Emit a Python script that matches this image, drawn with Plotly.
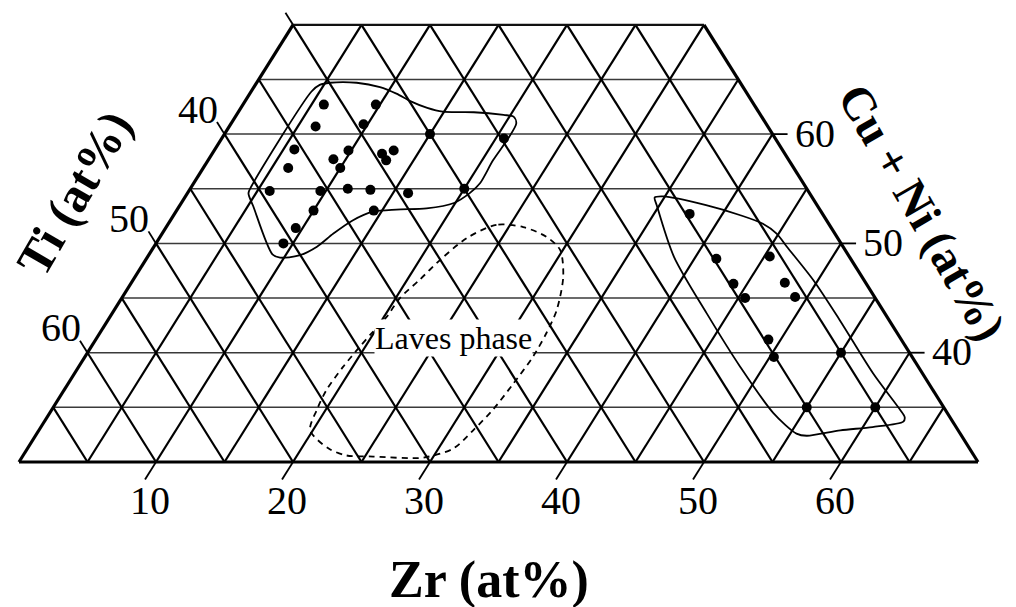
import plotly.graph_objects as go

# ---------------- data (compositions in at%; Ti = 100 - CuNi - Zr) ----------------
CUNI_MIN, CUNI_MAX, STEP = 30, 70, 5

ti_ticks = [30, 40, 50, 60]
ti_labels = ["", "40", "50", "60"]
zr_ticks = [10, 20, 30, 40, 50, 60]
zr_labels = ["10", "20", "30", "40", "50", "60"]
cuni_ticks = [40, 50, 60]
cuni_labels = ["40", "50", "60"]

left_pts_cuni = [62.7, 62.7, 60.7, 60.9, 60.0, 59.6, 58.6, 58.5, 57.7, 56.9, 58.2, 58.5,
                 57.6, 56.9, 54.8, 54.8, 55.0, 54.9, 54.6, 55.0, 53.0, 53.0, 51.4, 50.0]
left_pts_zr = [5.9, 9.7, 6.3, 9.7, 15.0, 20.6, 5.8, 9.8, 9.1, 10.0, 12.4, 13.1,
               13.0, 6.2, 5.9, 9.6, 11.5, 13.2, 16.1, 20.0, 10.0, 14.4, 9.5, 9.3]

right_pts_cuni = [52.7, 48.6, 48.8, 46.3, 46.4, 45.0, 45.1, 41.2, 39.6, 40.0, 35.0, 35.0]
right_pts_zr = [37.6, 41.6, 45.4, 44.0, 47.7, 45.5, 49.1, 49.1, 50.3, 55.0, 55.0, 60.0]

left_region_cuni = [64.5, 64.7, 64.7, 64.3, 63.7, 63.0, 62.4, 62.05, 62.0, 61.75, 61.6, 61.0,
                    59.5, 57.6, 55.5, 54.6, 53.7, 53.2, 53.1, 52.9, 52.1, 50.9, 49.7, 48.9,
                    48.7, 49.0, 53.4, 54.6, 55.25, 63.9, 64.5]
left_region_zr = [4.7, 5.35, 7.3, 9.2, 10.7, 12.1, 13.6, 14.9, 17.2, 19.5, 20.3, 20.8,
                  20.9, 20.8, 20.9, 20.6, 19.9, 18.15, 16.0, 14.4, 13.3, 12.5, 11.9, 11.0,
                  9.7, 9.0, 5.4, 4.45, 4.35, 4.4, 4.7]

right_region_cuni = [54.2, 54.3, 53.5, 52.6, 51.8, 50.9, 49.7, 46.65, 43.0, 38.1, 34.8, 34.1,
                     33.7, 33.2, 32.9, 32.4, 32.6, 34.5, 38.7, 43.6, 48.8, 53.5, 54.2]
right_region_zr = [34.3, 34.9, 38.4, 41.3, 43.4, 44.85, 46.2, 49.65, 53.4, 58.3, 61.9, 62.6,
                   62.7, 60.7, 58.5, 56.3, 55.45, 52.8, 48.3, 43.4, 38.4, 34.8, 34.3]

laves_cuni = [51.5, 51.7, 50.5, 48.5, 46.65, 45.0, 43.3, 41.8, 40.55, 38.7, 36.6, 34.8, 32.9,
              31.25, 30.6, 30.5, 30.4, 31.25, 32.9, 34.8, 37.2, 39.6, 41.8, 43.9, 46.95, 49.4,
              50.6, 51.5]
laves_zr = [26.05, 24.0, 22.45, 21.5, 20.9, 20.3, 20.2, 19.85, 19.6, 19.3, 19.15, 19.35, 19.8,
            21.95, 23.6, 25.6, 29.3, 31.1, 31.7, 32.2, 32.5, 32.7, 32.6, 32.3, 31.25, 29.8,
            28.2, 26.05]


# ---------------- projection (Ti bottom-left, Zr bottom-right, Cu+Ni top) ----------------
def px(cuni, zr):
    return zr + cuni / 2.0


def seg_trace(segs, width, color, dash=None):
    xs, ys = [], []
    for (c1, z1), (c2, z2) in segs:
        xs += [px(c1, z1), px(c2, z2), None]
        ys += [c1, c2, None]
    return go.Scatter(x=xs, y=ys, mode="lines", hoverinfo="skip", showlegend=False,
                      line=dict(color=color, width=width, dash=dash))


FONT = "Liberation Serif"

# horizontal grid (constant Cu+Ni)
h_segs = []
for c in range(CUNI_MIN + STEP, CUNI_MAX, STEP):
    h_segs.append(((c, 0), (c, 100 - c)))
# constant Zr lines (parallel to left edge)
z_segs = []
for z in range(STEP, 100 - CUNI_MIN, STEP):
    ctop = min(CUNI_MAX, 100 - z)
    z_segs.append(((CUNI_MIN, z), (ctop, z)))
# constant Ti lines (parallel to right edge)
t_segs = []
for t in range(STEP, 100 - CUNI_MIN, STEP):
    ctop = min(CUNI_MAX, 100 - t)
    t_segs.append(((CUNI_MIN, 100 - CUNI_MIN - t), (ctop, 100 - ctop - t)))

# borders
border_segs = [
    ((CUNI_MIN, 0), (CUNI_MAX, 0)),
    ((CUNI_MIN, 100 - CUNI_MIN), (CUNI_MAX, 100 - CUNI_MAX)),
    ((CUNI_MIN, 0), (CUNI_MIN, 100 - CUNI_MIN)),
]
top_seg = [((CUNI_MAX, 0), (CUNI_MAX, 100 - CUNI_MAX))]

# tick extensions
L_TI, L_ZR, L_CU = 1.1, 1.6, 1.1
tick_segs = []
for t in ti_ticks:
    tick_segs.append(((100 - t, 0), (100 - t + L_TI, -L_TI)))
for z in zr_ticks:
    tick_segs.append(((CUNI_MIN, z), (CUNI_MIN - L_ZR, z)))
for c in cuni_ticks:
    tick_segs.append(((c, 100 - c), (c, 100 - c + L_CU)))

fig = go.Figure()
fig.add_trace(seg_trace(h_segs, 1.5, "#3a3a3a"))
fig.add_trace(seg_trace(z_segs + t_segs, 2.2, "#000000"))
fig.add_trace(seg_trace(top_seg, 2.2, "#111111"))
fig.add_trace(seg_trace(border_segs, 3.2, "#000000"))
fig.add_trace(seg_trace(tick_segs, 1.8, "#000000"))

# regions
for cs, zs, dash in [(left_region_cuni, left_region_zr, None),
                     (right_region_cuni, right_region_zr, None),
                     (laves_cuni, laves_zr, "6px,5px")]:
    fig.add_trace(go.Scatter(x=[px(c, z) for c, z in zip(cs, zs)], y=cs, mode="lines",
                             line=dict(color="black", width=1.8, shape="spline",
                                       smoothing=0.8, dash=dash),
                             hoverinfo="skip", showlegend=False))

# points
for cs, zs in [(left_pts_cuni, left_pts_zr), (right_pts_cuni, right_pts_zr)]:
    fig.add_trace(go.Scatter(x=[px(c, z) for c, z in zip(cs, zs)], y=cs, mode="markers",
                             marker=dict(color="black", size=10),
                             hoverinfo="skip", showlegend=False))

ann = []
for t, lab in zip(ti_ticks, ti_labels):
    if lab:
        ann.append(dict(x=px(100 - t + L_TI, -L_TI), y=100 - t + L_TI, text=lab,
                        showarrow=False, xanchor="center", yanchor="middle",
                        xshift=-19, yshift=13, font=dict(family=FONT, size=40, color="black")))
for z, lab in zip(zr_ticks, zr_labels):
    ann.append(dict(x=px(CUNI_MIN - L_ZR, z), y=CUNI_MIN - L_ZR, text=lab,
                    showarrow=False, xanchor="center", yanchor="middle",
                    xshift=5, yshift=-21, font=dict(family=FONT, size=40, color="black")))
for c, lab in zip(cuni_ticks, cuni_labels):
    ann.append(dict(x=px(c, 100 - c + L_CU), y=c, text=lab,
                    showarrow=False, xanchor="left", yanchor="middle",
                    xshift=5, yshift=1, font=dict(family=FONT, size=40, color="black")))

ann.append(dict(x=74 / 1016, y=1 - 193 / 607, xref="paper", yref="paper", text="<b>Ti (at%)</b>",
                showarrow=False, textangle=-60, xanchor="center", yanchor="middle",
                font=dict(family=FONT, size=49, color="black")))
ann.append(dict(x=922 / 1016, y=1 - 212 / 607, xref="paper", yref="paper", text="<b>Cu + Ni (at%)</b>",
                showarrow=False, textangle=60, xanchor="center", yanchor="middle",
                font=dict(family=FONT, size=47, color="black")))
ann.append(dict(x=489 / 1016, y=1 - 580 / 607, xref="paper", yref="paper", text="<b>Zr (at%)</b>",
                showarrow=False, xanchor="center", yanchor="middle",
                font=dict(family=FONT, size=52, color="black")))
ann.append(dict(x=453 / 1016, y=1 - 338 / 607, xref="paper", yref="paper", text="Laves phase",
                showarrow=False, xanchor="center", yanchor="middle", bgcolor="white",
                borderpad=0, font=dict(family=FONT, size=32, color="black")))

fig.update_layout(
    width=1016, height=607, autosize=False,
    margin=dict(l=0, r=0, t=0, b=0),
    paper_bgcolor="white", plot_bgcolor="white",
    xaxis=dict(range=[13.613, 87.774], visible=False, fixedrange=True),
    yaxis=dict(range=[16.734, 72.27], visible=False, fixedrange=True),
    annotations=ann,
    showlegend=False,
)

fig.write_html("out.html")
